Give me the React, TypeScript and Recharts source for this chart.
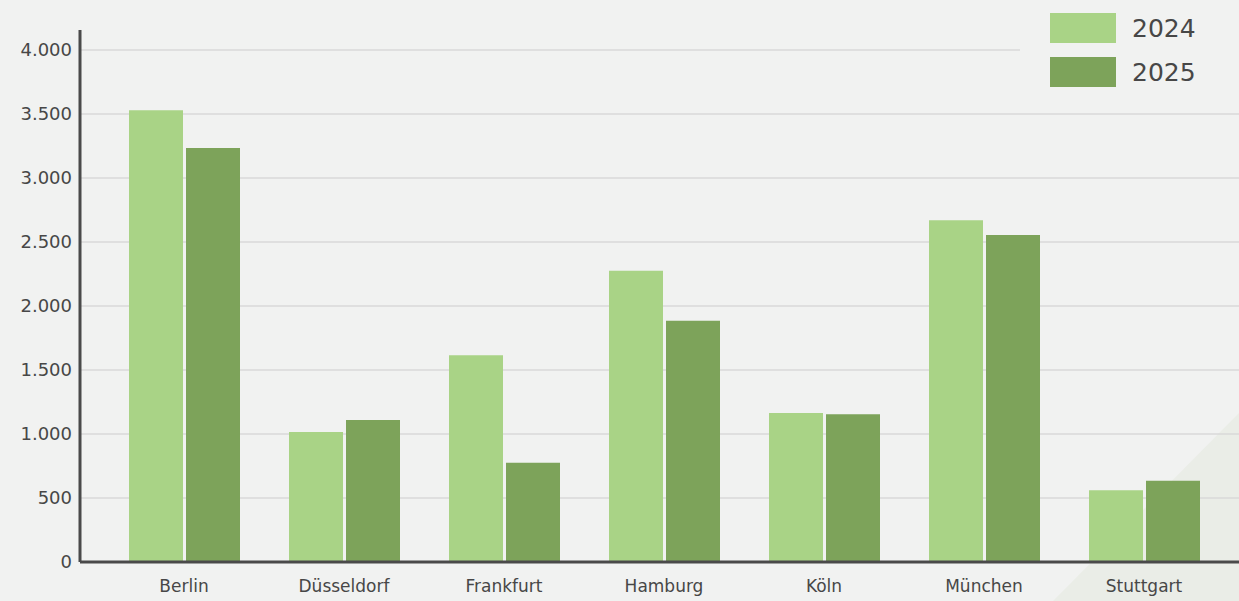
import React from "react";
import {
  BarChart,
  Bar,
  XAxis,
  YAxis,
  CartesianGrid,
} from "recharts";

const cities = [
  "Berlin",
  "Düsseldorf",
  "Frankfurt",
  "Hamburg",
  "Köln",
  "München",
  "Stuttgart",
];
const values2024 = [3530, 1015, 1615, 2275, 1165, 2670, 560];
const values2025 = [3235, 1110, 775, 1885, 1155, 2555, 635];
const yTicks = [0, 500, 1000, 1500, 2000, 2500, 3000, 3500, 4000];
const legendItems = ["2024", "2025"];

const COLORS = {
  y2024: "#a9d386",
  y2025: "#7da35a",
  text: "#474747",
  axis: "#4a4a4a",
  grid: "#d9d9d9",
  bg: "#f1f2f1",
};

const FONT = "'DejaVu Sans', sans-serif";
const TOP = 30;

const data = cities.map((city, i) => ({
  city,
  "2024": values2024[i],
  "2025": values2025[i],
}));

// German thousands separator
const formatDe = (v: number) =>
  String(v).replace(/\B(?=(\d{3})+(?!\d))/g, ".");

// skip the grid line on the plot's top edge (above 4.000)
const gridLine = (props: any) => {
  if (Math.abs(props.y1 - TOP) < 1) return <g key={props.key} />;
  return (
    <line
      key={props.key}
      x1={props.x1}
      y1={props.y1}
      x2={props.x2}
      y2={props.y2}
      stroke={COLORS.grid}
      strokeWidth={1.5}
    />
  );
};

function YearLegend() {
  const colors = [COLORS.y2024, COLORS.y2025];
  return (
    <div
      style={{
        position: "absolute",
        left: 1020,
        top: 0,
        width: 219,
        height: 100,
        background: COLORS.bg,
        fontFamily: FONT,
      }}
    >
      {legendItems.map((label, i) => (
        <div
          key={label}
          style={{
            position: "absolute",
            left: 30,
            top: 13 + i * 44,
            display: "flex",
            alignItems: "center",
            height: 30,
          }}
        >
          <span
            style={{ width: 66, height: 30, background: colors[i], display: "inline-block" }}
          />
          <span style={{ marginLeft: 16, fontSize: 25, color: COLORS.text }}>
            {label}
          </span>
        </div>
      ))}
    </div>
  );
}

export default function App() {
  return (
    <div
      style={{
        position: "fixed",
        left: 0,
        top: 0,
        width: 1239,
        height: 601,
        background: COLORS.bg,
        overflow: "hidden",
      }}
    >
      <div
        style={{
          position: "absolute",
          inset: 0,
          background: "#eaede7",
          clipPath: "polygon(1239px 413px, 1239px 601px, 1053px 601px)",
        }}
      />
      <div style={{ position: "absolute", left: 0, top: 0 }}>
        <BarChart
          width={1239}
          height={601}
          data={data}
          margin={{ top: TOP, right: 0, bottom: 0, left: 0 }}
          barSize={54}
          barGap={3}
        >
          <CartesianGrid vertical={false} horizontal={gridLine} />
          <XAxis
            dataKey="city"
            height={39}
            padding={{ left: 24, right: 15 }}
            tickLine={false}
            axisLine={{ stroke: COLORS.axis, strokeWidth: 3 }}
            tick={{ fill: COLORS.text, fontSize: 17, fontFamily: FONT }}
            tickMargin={12}
          />
          <YAxis
            width={80}
            domain={[0, 4000]}
            ticks={yTicks}
            padding={{ top: 20 }}
            tickFormatter={formatDe}
            tickLine={false}
            axisLine={{ stroke: COLORS.axis, strokeWidth: 3 }}
            tick={{ fill: COLORS.text, fontSize: 18, fontFamily: FONT }}
          />
          <Bar dataKey="2024" fill={COLORS.y2024} isAnimationActive={false} />
          <Bar dataKey="2025" fill={COLORS.y2025} isAnimationActive={false} />
        </BarChart>
      </div>
      <YearLegend />
    </div>
  );
}
